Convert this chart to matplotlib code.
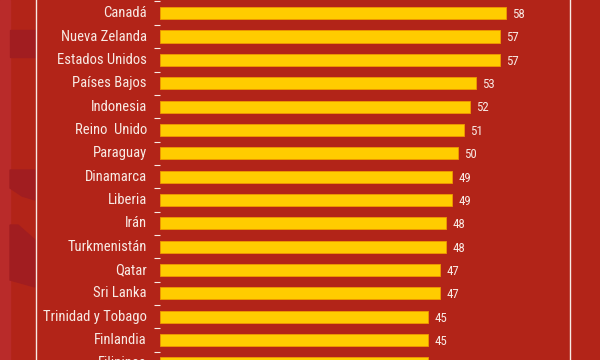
import matplotlib
matplotlib.use('Agg')
import matplotlib.pyplot as plt
from matplotlib import font_manager as fm
from matplotlib.patches import Polygon, Rectangle
from matplotlib.lines import Line2D

# data
paises = ['Canadá', 'Nueva Zelanda', 'Estados Unidos', 'Países Bajos', 'Indonesia',
          'Reino  Unido', 'Paraguay', 'Dinamarca', 'Liberia', 'Irán',
          'Turkmenistán', 'Qatar', 'Sri Lanka', 'Trinidad y Tobago', 'Finlandia',
          'Filipinas']
valores = [58, 57, 57, 53, 52, 51, 50, 49, 49, 48, 48, 47, 47, 45, 45, 45]

BG = '#B22418'
TXT = '#F8EAE4'

# pick a condensed face if one is installed
installed = {f.name for f in fm.fontManager.ttflist}
wanted = ['Roboto Condensed', 'Archivo Narrow', 'PT Sans Narrow', 'Liberation Sans Narrow',
          'Fira Sans Condensed', 'Open Sans Condensed', 'Arimo']
face = next((w for w in wanted if w in installed), 'DejaVu Sans')
plt.rcParams['font.family'] = [face, 'DejaVu Sans']

W, H = 600, 360
fig = plt.figure(figsize=(6, 3.6), dpi=100, facecolor=BG)

# left decoration strip
fig.patches.append(Rectangle((0, 0), 10 / W, 1, transform=fig.transFigure,
                             color='#B92B2A', zorder=0))
dark = '#A11D20'
shapes = [
    [(10, 30), (35, 30), (35, 57), (10, 57)],
    [(10, 170), (35, 170), (35, 200), (22, 196), (10, 188)],
    [(10, 225), (18, 225), (35, 240), (35, 287), (10, 280)],
]
for pts in shapes:
    fig.patches.append(Polygon([(x / W, 1 - y / H) for x, y in pts], closed=True,
                               transform=fig.transFigure, color=dark, zorder=0))

# white vertical rules
for xpix in (35.5, 569.5):
    fig.lines.append(Line2D([xpix / W, xpix / W], [0, 1], transform=fig.transFigure,
                            color=TXT, lw=1.0))

ax = fig.add_axes([160 / W, 0, 409.5 / W, 1])
ax.set_facecolor('none')

px_unit = 5.96
row = 23.35
y = list(range(len(paises)))
ax.barh(y, valores, height=0.52, color='#FFCC00', edgecolor='#F09A00', linewidth=0.6)

for yi, v in zip(y, valores):
    ax.annotate(str(v), (v, yi), xytext=(4.5, -1), textcoords='offset points',
                ha='left', va='center', color=TXT, fontsize=9.3)

# country names drawn as text so the last, half-cut row still shows
for yi, nombre in zip(y, paises):
    ax.annotate(nombre, (0, yi), xytext=(-9.5, 0), textcoords='offset points',
                ha='right', va='center', color=TXT, fontsize=10.5,
                annotation_clip=False)

ax.set_yticks([])
ax.set_yticks([k - 0.5 for k in range(len(paises) + 1)], minor=True)
ax.tick_params(axis='y', which='minor', length=4, width=0.8, color=TXT, direction='out',
               labelleft=False)
ax.set_xticks([])
for s in ax.spines.values():
    s.set_visible(False)

# limits last, so the tick setters do not widen them
ax.set_xlim(0, 409.5 / px_unit)
top = -0.5 - 1.5 / row
ax.set_ylim(top + H / row, top)

fig.savefig('out.png', dpi=100, facecolor=BG)
